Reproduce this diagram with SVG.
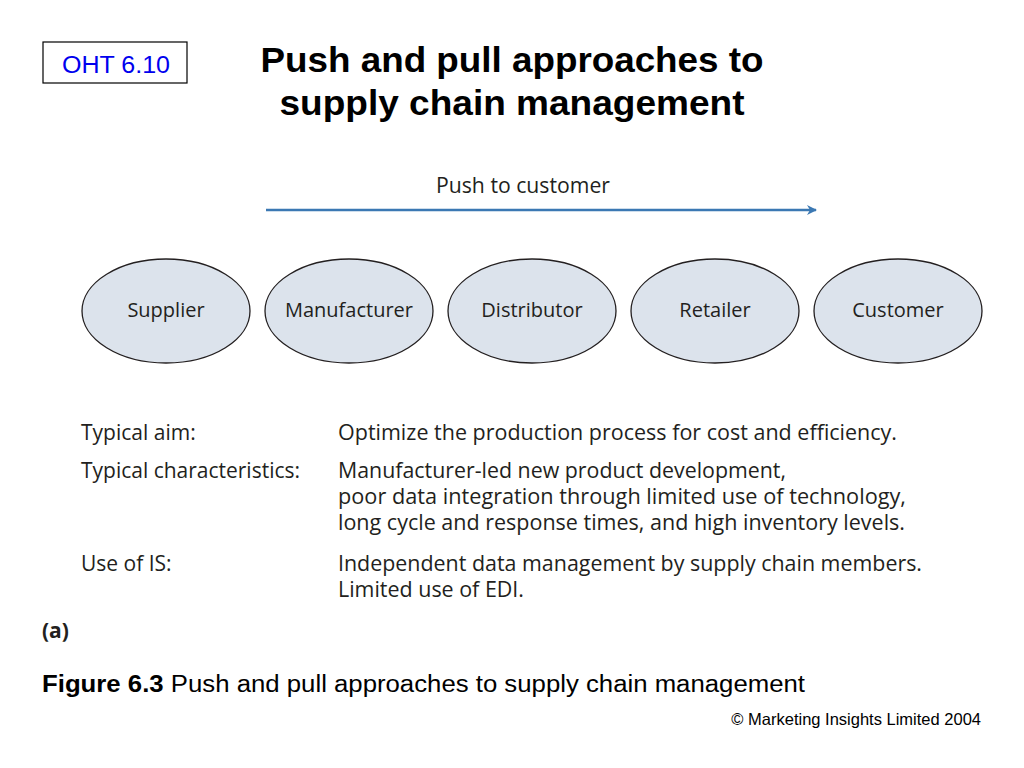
<svg xmlns="http://www.w3.org/2000/svg" width="1024" height="768" viewBox="0 0 1024 768">
<style>
.t{font-family:"Open Sans","DejaVu Sans",sans-serif;font-size:21px;fill:#231f20}
.n ellipse{fill:#dce3ec;stroke:#231f20;stroke-width:1.3}
.n text{font-size:20px}
.h{font-family:"Liberation Sans",Arial,sans-serif;font-weight:bold;font-size:35px;fill:#000;text-anchor:middle}
</style>
<defs><marker id="a" markerWidth="10" markerHeight="10" refX="9" refY="5" orient="auto" markerUnits="userSpaceOnUse"><path d="M0,0 L10,5 L0,10 L3,5 Z" fill="#3b78b3"/></marker></defs>
<rect width="1024" height="768" fill="#fff"/>
<rect x="43" y="42" width="144" height="41" fill="#fff" stroke="#000" stroke-width="1.2"/>
<text x="116" y="73" font-family="Liberation Sans,Arial,sans-serif" font-size="23" fill="#0000ee" text-anchor="middle" textLength="108" lengthAdjust="spacingAndGlyphs">OHT 6.10</text>
<text class="h" x="512" y="72" textLength="503" lengthAdjust="spacingAndGlyphs">Push and pull approaches to</text>
<text class="h" x="512" y="115" textLength="465" lengthAdjust="spacingAndGlyphs">supply chain management</text>
<text class="t" x="436" y="193" textLength="174" lengthAdjust="spacingAndGlyphs">Push to customer</text>
<g id="connectors"><line x1="266" y1="210" x2="816" y2="210" stroke="#3b78b3" stroke-width="2.5" marker-end="url(#a)"/></g>
<g id="supplier" class="n"><ellipse cx="166" cy="311" rx="84" ry="52"/><text class="t" x="166" y="317" text-anchor="middle">Supplier</text></g>
<g id="manufacturer" class="n"><ellipse cx="349" cy="311" rx="84" ry="52"/><text class="t" x="349" y="317" text-anchor="middle">Manufacturer</text></g>
<g id="distributor" class="n"><ellipse cx="532" cy="311" rx="84" ry="52"/><text class="t" x="532" y="317" text-anchor="middle">Distributor</text></g>
<g id="retailer" class="n"><ellipse cx="715" cy="311" rx="84" ry="52"/><text class="t" x="715" y="317" text-anchor="middle">Retailer</text></g>
<g id="customer" class="n"><ellipse cx="898" cy="311" rx="84" ry="52"/><text class="t" x="898" y="317" text-anchor="middle">Customer</text></g>
<text class="t" x="81" y="440">Typical aim:</text>
<text class="t" x="338" y="440" textLength="559" lengthAdjust="spacingAndGlyphs">Optimize the production process for cost and efficiency.</text>
<text class="t" x="81" y="478" textLength="219" lengthAdjust="spacingAndGlyphs">Typical characteristics:</text>
<text class="t" x="338" y="478" textLength="448" lengthAdjust="spacingAndGlyphs">Manufacturer-led new product development,</text>
<text class="t" x="338" y="504" textLength="568" lengthAdjust="spacingAndGlyphs">poor data integration through limited use of technology,</text>
<text class="t" x="338" y="530" textLength="567" lengthAdjust="spacingAndGlyphs">long cycle and response times, and high inventory levels.</text>
<text class="t" x="81" y="571">Use of IS:</text>
<text class="t" x="338" y="571" textLength="584" lengthAdjust="spacingAndGlyphs">Independent data management by supply chain members.</text>
<text class="t" x="338" y="597" textLength="186" lengthAdjust="spacingAndGlyphs">Limited use of EDI.</text>
<text class="t" x="42" y="638" font-weight="bold">(a)</text>
<text x="42" y="692" font-family="Liberation Sans,Arial,sans-serif" font-size="23" fill="#000" textLength="763" lengthAdjust="spacingAndGlyphs"><tspan font-weight="bold">Figure 6.3</tspan>  Push and pull approaches to supply chain management</text>
<text x="981" y="725" font-family="Liberation Sans,Arial,sans-serif" font-size="16.5" fill="#000" text-anchor="end">© Marketing Insights Limited 2004</text>
</svg>
